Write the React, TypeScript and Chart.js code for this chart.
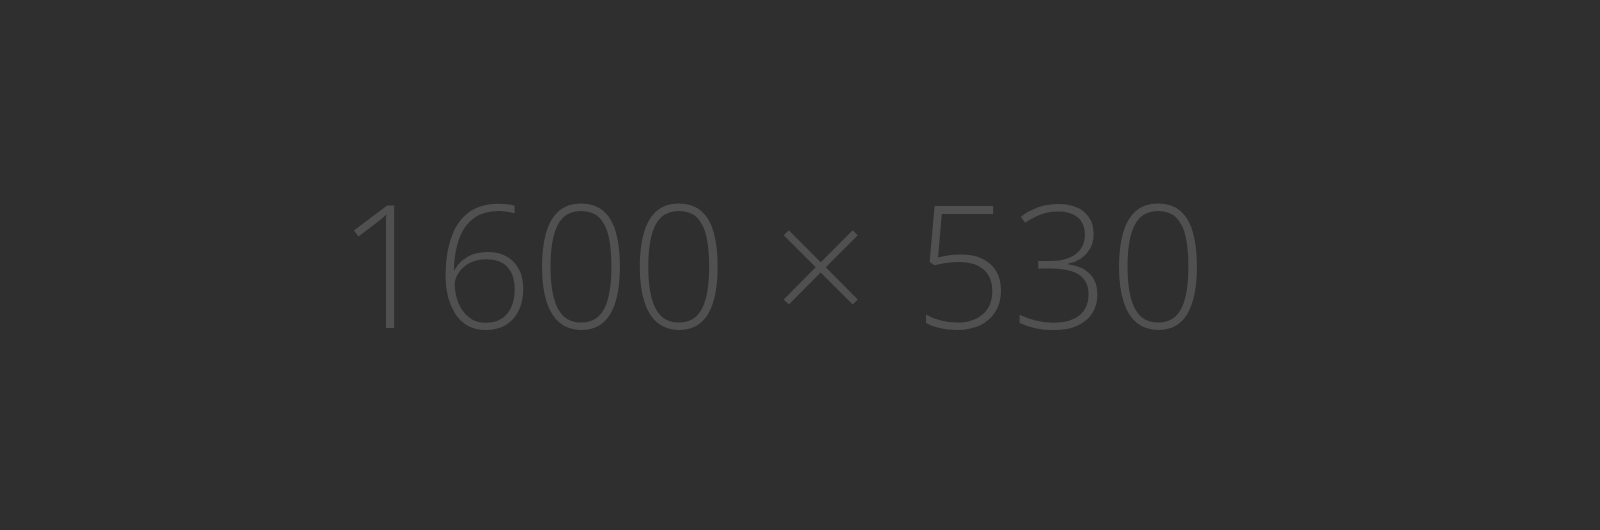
import React, { useEffect, useRef } from "react";
import Chart from "chart.js/auto";

const labels: string[] = [];
const values: number[] = [];
const caption = "1600 × 530";

const background = {
  id: "background",
  beforeDraw(chart: any) {
    const { ctx, width, height } = chart;
    ctx.save();
    ctx.fillStyle = "#2f2f2f";
    ctx.fillRect(0, 0, width, height);
    ctx.restore();
  },
};

const App = () => {
  const canvasRef = useRef<HTMLCanvasElement | null>(null);

  useEffect(() => {
    document.body.style.margin = "0";
    const ctx = canvasRef.current?.getContext("2d");
    if (!ctx) return;
    const chart = new Chart(ctx, {
      type: "bar",
      data: { labels, datasets: [{ data: values }] },
      options: {
        animation: false,
        responsive: false,
        layout: { padding: { right: 56 } },
        scales: { x: { display: false }, y: { display: false } },
        plugins: {
          legend: { display: false },
          tooltip: { enabled: false },
          title: {
            display: true,
            text: caption,
            color: "#505050",
            font: { family: "'Open Sans'", size: 171, weight: 300, lineHeight: 1.2 },
            padding: { top: 177, bottom: 0 },
          },
        },
      },
      plugins: [background],
    });
    return () => chart.destroy();
  }, []);

  return <canvas ref={canvasRef} width={1600} height={530} style={{ display: "block" }} />;
};

export default App;
